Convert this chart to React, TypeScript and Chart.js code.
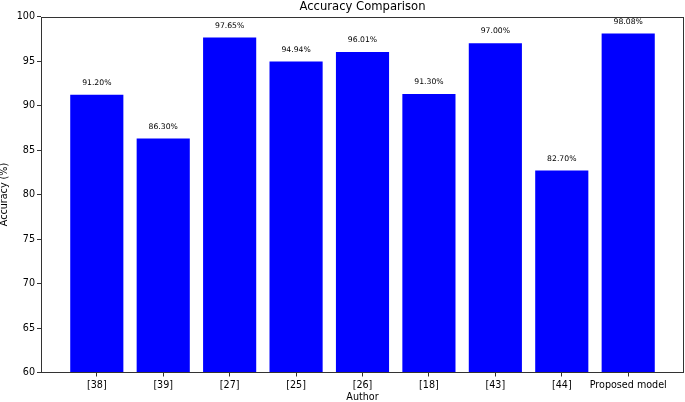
import React, { useEffect, useRef } from "react";
import { Chart, registerables } from "chart.js";

Chart.register(...registerables);

const categories = ["[38]", "[39]", "[27]", "[25]", "[26]", "[18]", "[43]", "[44]", "Proposed model"];
const accuracy = [91.2, 86.3, 97.65, 94.94, 96.01, 91.3, 97.0, 82.7, 98.08];
const yTicks = [60, 65, 70, 75, 80, 85, 90, 95, 100];

const FONT = "'DejaVu Sans', sans-serif";

const framePlugin = {
  id: "frame",
  afterDatasetsDraw(chart: any) {
    const { ctx, chartArea } = chart;
    const l = Math.round(chartArea.left) + 0.5;
    const t = Math.round(chartArea.top) + 0.5;
    const r = Math.round(chartArea.right) - 0.5;
    const b = Math.round(chartArea.bottom) - 0.5;
    ctx.save();
    ctx.strokeStyle = "#333";
    ctx.lineWidth = 1;
    ctx.strokeRect(l, t, r - l, b - t);
    ctx.restore();
  },
};

const valueLabelPlugin = {
  id: "valueLabels",
  afterDatasetsDraw(chart: any) {
    const { ctx } = chart;
    const xs = chart.scales.x;
    const ys = chart.scales.y;
    ctx.save();
    ctx.font = `7.7px ${FONT}`;
    ctx.fillStyle = "#000";
    ctx.textAlign = "center";
    ctx.textBaseline = "alphabetic";
    accuracy.forEach((v, i) => {
      const x = xs.getPixelForValue(i);
      const y = ys.getPixelForValue(v + 1) - 1;
      ctx.fillText(v.toFixed(2) + "%", x, y);
    });
    ctx.restore();
  },
};

export default function App() {
  const ref = useRef<HTMLCanvasElement | null>(null);

  useEffect(() => {
    document.body.style.margin = "0";
    const canvas = ref.current;
    if (!canvas) return;
    const chart = new Chart(canvas, {
      type: "bar",
      data: {
        datasets: [
          {
            label: "Accuracy",
            data: accuracy.map((v, i) => ({ x: i, y: v })),
            backgroundColor: "#0000ff",
            borderWidth: 0,
            barPercentage: 0.8,
            categoryPercentage: 1.0,
          },
        ],
      },
      options: {
        responsive: false,
        animation: false,
        devicePixelRatio: 1,
        layout: { padding: { left: 0, right: 1, top: 0, bottom: 0 } },
        plugins: {
          legend: { display: false },
          tooltip: { enabled: false },
          title: {
            display: true,
            text: "Accuracy Comparison",
            fullSize: false,
            color: "#000",
            font: { family: FONT, size: 11.6, weight: "normal", lineHeight: 1.2 },
            padding: { top: 0, bottom: 2.6 },
          },
        },
        scales: {
          x: {
            type: "linear",
            min: -0.84,
            max: 8.84,
            offset: false,
            afterBuildTicks: (scale: any) => {
              scale.ticks = categories.map((_, i) => ({ value: i }));
            },
            afterFit: (scale: any) => {
              scale.height = 29.5;
            },
            grid: {
              display: true,
              offset: false,
              drawOnChartArea: false,
              drawTicks: true,
              tickLength: 4,
              color: "#333",
            },
            border: { display: false },
            ticks: {
              autoSkip: false,
              maxRotation: 0,
              padding: 3,
              color: "#000",
              font: { family: FONT, size: 9.6 },
              callback: (v: any) => categories[v as number] ?? "",
            },
            title: {
              display: true,
              text: "Author",
              color: "#000",
              font: { family: FONT, size: 9.6, lineHeight: 1.0 },
              padding: { top: 0, bottom: 0 },
            },
          },
          y: {
            type: "linear",
            min: 60,
            max: 100,
            afterBuildTicks: (scale: any) => {
              scale.ticks = yTicks.map((v) => ({ value: v }));
            },
            afterFit: (scale: any) => {
              scale.width = 41;
            },
            grid: {
              display: true,
              drawOnChartArea: false,
              drawTicks: true,
              tickLength: 4,
              color: "#333",
            },
            border: { display: false },
            ticks: {
              padding: 2,
              color: "#000",
              font: { family: FONT, size: 9.6 },
              callback: (v: any) => String(v),
            },
            title: {
              display: true,
              text: "Accuracy (%)",
              color: "#000",
              font: { family: FONT, size: 9.6, lineHeight: 1.0 },
              padding: { top: 0, bottom: 0 },
            },
          },
        },
      },
      plugins: [framePlugin, valueLabelPlugin],
    } as any);
    return () => chart.destroy();
  }, []);

  return (
    <div style={{ width: 685, height: 402 }}>
      <canvas ref={ref} width={685} height={402} style={{ display: "block", width: 685, height: 402 }} />
    </div>
  );
}
